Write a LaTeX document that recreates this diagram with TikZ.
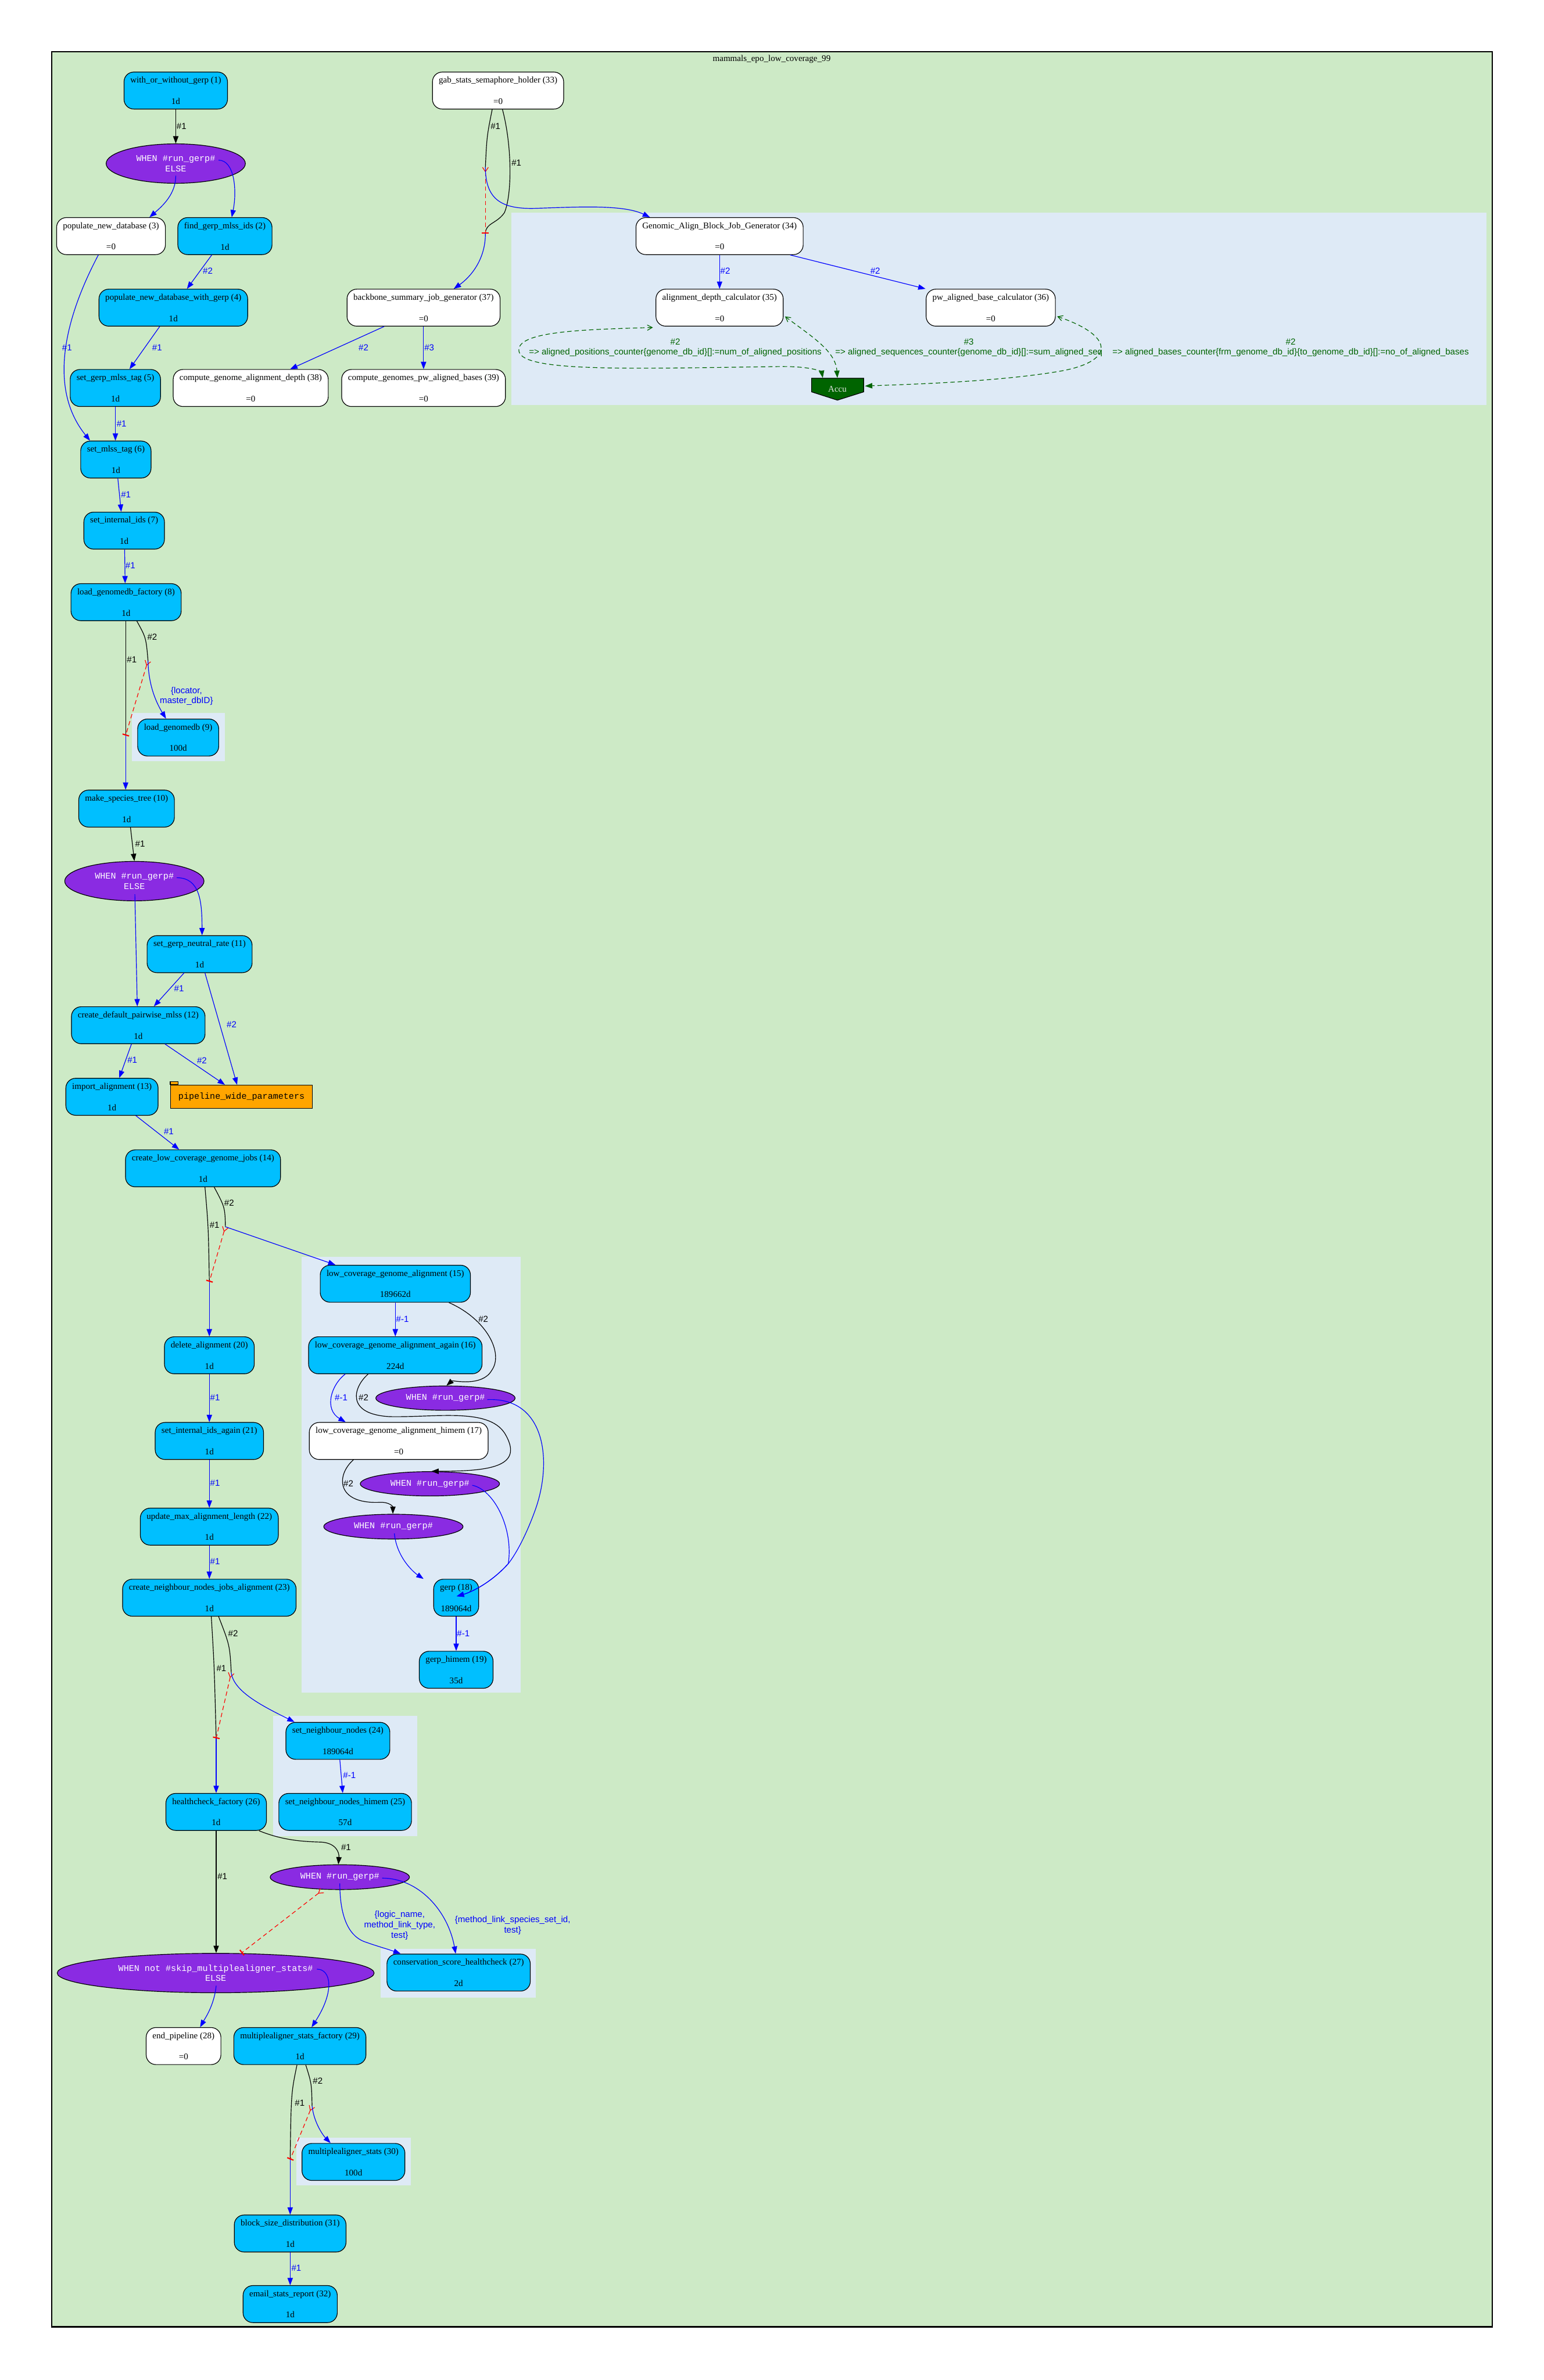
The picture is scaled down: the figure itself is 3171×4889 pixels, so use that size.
\documentclass[tikz,border=0pt]{standalone}
\usepackage{fontspec}
\setmainfont{Liberation Serif}
\setsansfont{Liberation Sans}
\setmonofont{Liberation Mono}
\usepackage{tikz}
\usetikzlibrary{
  arrows.meta,
  calc,
  shapes.geometric
}
\definecolor{clustergreen}{RGB}{205,234,198}
\definecolor{clusterblue}{RGB}{222,234,246}
\definecolor{jobblue}{RGB}{0,191,255}
\definecolor{condviolet}{RGB}{138,43,226}
\definecolor{pwporange}{RGB}{255,165,0}
\definecolor{accugreen}{RGB}{0,100,0}

\begin{document}
\begin{tikzpicture}[x=1pt,y=-1pt,
  job/.style={draw, rounded corners=20pt, fill=jobblue, line width=1.4pt, align=center,
    minimum height=76pt, inner xsep=13pt, inner ysep=4pt, font=\fontsize{18}{22}\selectfont},
  idle/.style={job, fill=white},
  cond/.style={draw, ellipse, fill=condviolet, text=white, line width=1.4pt, align=center,
    inner sep=0pt, minimum width=286pt, font=\ttfamily\fontsize{18}{21}\selectfont},
  fanin/.style={black, line width=1.4pt},
  ctrl/.style={fanin, -{Triangle[length=15pt,width=11pt]}},
  flow/.style={blue, line width=1.4pt, -{Triangle[length=15pt,width=11pt]}},
  sema/.style={red, line width=1.4pt, dash pattern=on 9pt off 6pt,
    {Straight Barb[reversed,length=9pt,width=12pt]}-{Bar[width=14pt,line width=2.5pt]}},
  accuedge/.style={accugreen, line width=1.4pt, dash pattern=on 9pt off 6pt,
    {Straight Barb[length=10pt,width=11pt]}-{Triangle[length=15pt,width=11pt]}},
  lbl/.style={font=\sffamily\fontsize{18}{21}\selectfont, inner sep=0pt, anchor=west, align=center},
  blbl/.style={lbl, text=blue},
  glbl/.style={lbl, text=accugreen}]
  \useasboundingbox (0,0) rectangle (3171,4889);
  % outer cluster
  \draw[line width=3pt, fill=clustergreen] (106,106) rectangle (3065,4780);
  \node[font=\fontsize{18}{22}\selectfont] (title) at (1585,122) {mammals\_epo\_low\_coverage\_99};
  % inner clusters
  \foreach \xa/\ya/\xb/\yb in {1050/437/3053/832, 271/1465/462/1564, 620/2582/1070/3477,
    561/3525/857/3772, 782/4003/1100/4103, 609/4391/844/4489}{
    \fill[clusterblue] (\xa,\ya) rectangle (\xb,\yb);
  }
  % jobs
  \foreach \nm/\px/\py/\lab/\stat in {
    n1/361/186/with\_or\_without\_gerp (1)/1d,
    n2/462/485/find\_gerp\_mlss\_ids (2)/1d,
    n4/356/632/populate\_new\_database\_with\_gerp (4)/1d,
    n5/237/797/set\_gerp\_mlss\_tag (5)/1d,
    n6/238/944/set\_mlss\_tag (6)/1d,
    n7/255/1090/set\_internal\_ids (7)/1d,
    n8/259/1237/load\_genomedb\_factory (8)/1d,
    n9/366/1515/load\_genomedb (9)/100d,
    n10/260/1661/make\_species\_tree (10)/1d,
    n11/410/1960/set\_gerp\_neutral\_rate (11)/1d,
    n12/284/2106/create\_default\_pairwise\_mlss (12)/1d,
    n13/230/2253/import\_alignment (13)/1d,
    n14/417/2400/create\_low\_coverage\_genome\_jobs (14)/1d,
    n15/812/2637/low\_coverage\_genome\_alignment (15)/189662d,
    n16/812/2784/low\_coverage\_genome\_alignment\_again (16)/224d,
    n18/937/3282/gerp (18)/189064d,
    n19/937/3430/gerp\_himem (19)/35d,
    n20/430/2784/delete\_alignment (20)/1d,
    n21/430/2960/set\_internal\_ids\_again (21)/1d,
    n22/430/3136/update\_max\_alignment\_length (22)/1d,
    n23/430/3282/create\_neighbour\_nodes\_jobs\_alignment (23)/1d,
    n24/694/3576/set\_neighbour\_nodes (24)/189064d,
    n25/709/3722/set\_neighbour\_nodes\_himem (25)/57d,
    n26/444/3722/healthcheck\_factory (26)/1d,
    n27/942/4052/conservation\_score\_healthcheck (27)/2d,
    n29/616/4203/multiplealigner\_stats\_factory (29)/1d,
    n30/726/4441/multiplealigner\_stats (30)/100d,
    n31/596/4588/block\_size\_distribution (31)/1d,
    n32/596/4733/email\_stats\_report (32)/1d}{
    \node[job] (\nm) at (\px,\py) {\lab\\[22pt]\stat};
  }
  \foreach \nm/\px/\py/\lab in {
    n3/228/485/populate\_new\_database (3),
    n17/819/2960/low\_coverage\_genome\_alignment\_himem (17),
    n28/377/4203/end\_pipeline (28),
    n33/1023/186/gab\_stats\_semaphore\_holder (33),
    n34/1478/485/Genomic\_Align\_Block\_Job\_Generator (34),
    n35/1478/632/alignment\_depth\_calculator (35),
    n36/2035/632/pw\_aligned\_base\_calculator (36),
    n37/870/632/backbone\_summary\_job\_generator (37),
    n38/515/797/compute\_genome\_alignment\_depth (38),
    n39/870/797/compute\_genomes\_pw\_aligned\_bases (39)}{
    \node[idle] (\nm) at (\px,\py) {\lab\\[22pt]=0};
  }
  % conditions
  \node[cond, minimum height=81pt] (c1) at (361,336) {WHEN \#run\_gerp\#\\ELSE};
  \node[cond, minimum height=81pt] (c2) at (276,1810) {WHEN \#run\_gerp\#\\ELSE};
  \node[cond, minimum height=50pt] (ca) at (915,2872) {WHEN \#run\_gerp\#};
  \node[cond, minimum height=50pt] (cb) at (883,3048) {WHEN \#run\_gerp\#};
  \node[cond, minimum height=51pt] (cc) at (808,3136) {WHEN \#run\_gerp\#};
  \node[cond, minimum height=51pt] (cd) at (698,3856) {WHEN \#run\_gerp\#};
  \node[cond, minimum width=651pt, minimum height=81pt] (ce) at (443,4053)
    {WHEN not \#skip\_multiplealigner\_stats\#\\ELSE};
  % parameters table
  \node[draw, fill=pwporange, line width=1.4pt, minimum width=291pt, minimum height=48pt,
    font=\ttfamily\fontsize{18}{21}\selectfont] (pwp) at (496,2253) {pipeline\_wide\_parameters};
  \draw[fill=pwporange, line width=1.4pt] (pwp.north west) rectangle ++(16,-6);
  % accumulator
  \filldraw[fill=accugreen, draw=black, line width=1.4pt]
    (1667,777) -- (1774,777) -- (1774,805) -- (1720,822) -- (1667,805) -- cycle;
  \node[font=\fontsize{18}{22}\selectfont, text=white!90!black, minimum width=107pt,
    minimum height=45pt, inner sep=0pt] (accu) at (1720,799) {Accu};

  % first condition
  \draw[ctrl] (n1.south) -- (c1.north) node[lbl] at (362,259) {\#1};
  \draw[flow] ($(c1)+(0,25)$) .. controls (361,398) and (335,422) .. ($(n3.north)+(79,0)$);
  \draw[flow] ($(c1)+(88,-7)$) .. controls (482,329) and (487,392) .. ($(n2.north)+(14,0)$);
  \draw[flow] ($(n2.south)+(-27,0)$) -- ($(n4.north)+(28,0)$) node[blbl] at (416,557) {\#2};
  \draw[flow] ($(n4.south)+(-28,0)$) -- ($(n5.north)+(29,0)$) node[blbl] at (312,714) {\#1};
  \draw[flow] ($(n3.south)+(-26,0)$) .. controls (130,660) and (100,800) .. ($(n6.north)+(-53,0)$)
    node[blbl] at (127,714) {\#1};
  \draw[flow] (n5.south) -- (n5.south |- n6.north) node[blbl] at (239,870) {\#1};
  \draw[flow] ($(n6.south)+(4,0)$) -- ($(n7.north)+(-6,0)$) node[blbl] at (248,1016) {\#1};
  \draw[flow] ($(n7.south)+(1,0)$) -- ($(n8.north)+(-2,0)$) node[blbl] at (257,1162) {\#1};

  % semaphore holder
  \coordinate (f33) at (997,343);
  \coordinate (t33) at (997,480);
  \draw[fanin] ($(n33.south)+(-12,0)$) .. controls (1000,280) .. (f33) node[lbl] at (1007,259) {\#1};
  \draw[fanin] ($(n33.south)+(9,0)$) .. controls (1052,300) and (1052,400) .. (1036,437)
    .. controls (1020,460) and (997,458) .. (t33) node[lbl] at (1050,335) {\#1};
  \draw[sema] (f33) -- (t33);
  \draw[flow] (f33) .. controls (997,410) and (1030,430) .. (1100,428)
    .. controls (1190,425) and (1280,420) .. ($(n34.north)+(-143,0)$);
  \draw[flow] (t33) .. controls (997,535) and (965,570) .. ($(n37.north)+(62,0)$);
  \draw[flow] ($(n37.south)+(-81,0)$) -- ($(n38.north)+(81,0)$) node[blbl] at (736,714) {\#2};
  \draw[flow] (n37.south) -- (n39.north) node[blbl] at (871,714) {\#3};
  \draw[flow] (n34.south) -- (n35.north) node[blbl] at (1479,557) {\#2};
  \draw[flow] ($(n34.south)+(145,0)$) -- ($(n36.north)+(-134,0)$) node[blbl] at (1787,557) {\#2};
  % accumulator edges
  \draw[accuedge] ($(n35.south)+(-137,2)$) .. controls (1200,677) and (1058,680) .. (1066,722)
    .. controls (1075,765) and (1300,757) .. (1600,753)
    .. controls (1672,752) and (1688,765) .. ($(accu.north)+(-30,0)$)
    node[glbl, anchor=center] at (1387,714)
    {\#2\\=> aligned\_positions\_counter\{genome\_db\_id\}[]:=num\_of\_aligned\_positions};
  \draw[accuedge] ($(n35.east)+(3,18)$) .. controls (1665,690) and (1716,720) .. (accu.north)
    node[glbl, anchor=center] at (1990,714)
    {\#3\\=> aligned\_sequences\_counter\{genome\_db\_id\}[]:=sum\_aligned\_seq};
  \draw[accuedge] ($(n36.east)+(3,18)$) .. controls (2290,690) and (2290,742) .. (2180,762)
    .. controls (2050,785) and (1850,790) .. ($(accu.east)+(3,-6)$)
    node[glbl, anchor=center] at (2651,714)
    {\#2\\=> aligned\_bases\_counter\{frm\_genome\_db\_id\}\{to\_genome\_db\_id\}[]:=no\_of\_aligned\_bases};

  % semaphore at load_genomedb_factory
  \coordinate (f8) at (304,1357);
  \coordinate (t8) at (258,1511);
  \draw[fanin] ($(n8.south)+(-1,0)$) -- (t8) node[lbl] at (260,1355) {\#1};
  \draw[fanin] ($(n8.south)+(22,0)$) .. controls (300,1310) .. (f8) node[lbl] at (302,1309) {\#2};
  \draw[sema] (f8) -- (t8);
  \draw[flow] (f8) .. controls (305,1410) and (322,1445) .. ($(n9.north)+(-25,0)$)
    node[blbl, anchor=center] at (383,1430) {\{locator,\\master\_dbID\}};
  \draw[flow] (t8) -- (t8 |- n10.north);

  % second condition
  \draw[ctrl] ($(n10.south)+(8,0)$) -- (c2.north) node[lbl] at (277,1734) {\#1};
  \draw[flow] ($(c2)+(1,27)$) -- ($(n12.north)+(-2,0)$);
  \draw[flow] ($(c2)+(87,-7)$) .. controls (410,1803) and (415,1850) .. ($(n11.north)+(5,0)$);
  \draw[flow] ($(n11.south)+(-32,0)$) -- ($(n12.north)+(32,0)$) node[blbl] at (357,2031) {\#1};
  \draw[flow] ($(n11.south)+(11,0)$) -- ($(pwp.north)+(-9,0)$) node[blbl] at (465,2105) {\#2};
  \draw[flow] ($(n12.south)+(55,0)$) -- ($(pwp.north)+(-34,0)$) node[blbl] at (404,2178) {\#2};
  \draw[flow] ($(n12.south)+(-14,0)$) -- ($(n13.north)+(15,0)$) node[blbl] at (261,2178) {\#1};
  \draw[flow] ($(n13.south)+(49,0)$) -- ($(n14.north)+(-49,0)$) node[blbl] at (336,2324) {\#1};

  % semaphore at create_low_coverage_genome_jobs
  \coordinate (f14) at (463,2520);
  \coordinate (t14) at (430,2633);
  \draw[fanin] ($(n14.south)+(4,0)$) .. controls (428,2520) .. (t14) node[lbl] at (430,2517) {\#1};
  \draw[fanin] ($(n14.south)+(23,0)$) .. controls (462,2480) .. (f14) node[lbl] at (460,2471) {\#2};
  \draw[sema] (f14) -- (t14);
  \draw[flow] (f14) -- ($(n15.north)+(-123,0)$);
  \draw[flow] (t14) -- (n20.north);
  % low coverage cluster
  \draw[flow] (n15.south) -- (n16.north) node[blbl] at (813,2710) {\#-1};
  \draw[ctrl] ($(n15.south)+(110,0)$) .. controls (1000,2710) and (1035,2780) .. (1010,2815)
    .. controls (990,2850) and (930,2835) .. ($(ca.north)+(2,0)$) node[lbl] at (982,2710) {\#2};
  \draw[flow] ($(n16.south)+(-103,0)$) .. controls (680,2845) and (665,2895) .. ($(n17.north)+(-109,0)$)
    node[blbl] at (687,2871) {\#-1};
  \draw[ctrl] ($(n16.south)+(-56,0)$) .. controls (725,2850) and (710,2905) .. (800,2910)
    .. controls (900,2912) and (1010,2890) .. (1040,2950)
    .. controls (1075,3015) and (1000,3022) .. ($(cb.north)+(3,0)$) node[lbl] at (736,2871) {\#2};
  \draw[ctrl] ($(n17.south)+(-93,0)$) .. controls (690,3030) and (690,3090) .. (780,3086)
    .. controls (800,3085) and (807,3095) .. ($(cc.north)+(-1,0)$) node[lbl] at (705,3047) {\#2};
  \draw[flow] ($(cc)+(2,14)$) .. controls (815,3200) and (850,3230) .. ($(n18.north)+(-67,0)$);
  \draw[flow] ($(ca)+(86,3)$) .. controls (1120,2870) and (1135,3000) .. (1100,3100)
    .. controls (1075,3170) and (1050,3205) .. (1044,3212)
    .. controls (1010,3250) and (970,3270) .. ($(n18)+(1,-3)$);
  \draw[flow] ($(cb)+(87,3)$) .. controls (1015,3060) and (1055,3140) .. (1044,3212)
    .. controls (1010,3250) and (970,3270) .. ($(n18)+(1,-3)$);
  \draw[flow] (n18.south) -- (n19.north) node[blbl] at (938,3355) {\#-1};
  % alignment chain
  \foreach \a/\b/\y in {n20/n21/2871, n21/n22/3047, n22/n23/3207}{
    \draw[flow] (\a.south) -- (\b.north) node[blbl] at (431,\y) {\#1};
  }

  % semaphore at create_neighbour_nodes_jobs_alignment
  \coordinate (f23) at (475,3436);
  \coordinate (t23) at (444,3571);
  \draw[fanin] ($(n23.south)+(4,0)$) .. controls (440,3420) .. (t23) node[lbl] at (444,3427) {\#1};
  \draw[fanin] ($(n23.south)+(19,0)$) .. controls (472,3380) .. (f23) node[lbl] at (468,3355) {\#2};
  \draw[sema] (f23) -- (t23);
  \draw[flow] (f23) .. controls (480,3475) and (540,3505) .. ($(n24.north)+(-89,0)$);
  \draw[flow] (t23) -- (n26.north);
  \draw[flow] ($(n24.south)+(4,0)$) -- ($(n25.north)+(-5,0)$) node[blbl] at (704,3647) {\#-1};

  % healthchecks
  \draw[ctrl] ($(n26.south)+(88,0)$) .. controls (580,3780) and (620,3783) .. (660,3784)
    .. controls (690,3786) and (697,3805) .. ($(cd.north)+(-3,0)$) node[lbl] at (700,3795) {\#1};
  \draw[ctrl] (n26.south) -- (n26.south |- ce.north) node[lbl] at (446,3855) {\#1};
  \draw[flow] ($(cd)+(0,13)$) .. controls (698,3935) and (715,3975) .. (747,3988)
    .. controls (775,3998) and (800,4005) .. ($(n27.north)+(-119,0)$)
    node[blbl, anchor=center] at (821,3955) {\{logic\_name,\\method\_link\_type,\\test\}};
  \draw[flow] ($(cd)+(87,2)$) .. controls (860,3858) and (920,3925) .. ($(n27.north)+(-6,0)$)
    node[blbl, anchor=center] at (1053,3955) {\{method\_link\_species\_set\_id,\\test\}};
  \draw[sema] ($(cd)+(-36,27)$) -- ($(ce.north)+(53,0)$);
  \draw[flow] ($(ce)+(1,26)$) .. controls (440,4120) and (420,4148) .. ($(n28.north)+(34,0)$);
  \draw[flow] ($(ce)+(208,-8)$) .. controls (680,4045) and (688,4090) .. ($(n29.north)+(24,0)$);

  % semaphore at multiplealigner_stats_factory
  \coordinate (f29) at (641,4326);
  \coordinate (t29) at (596,4436);
  \draw[fanin] ($(n29.south)+(-6,0)$) .. controls (598,4300) .. (t29) node[lbl] at (605,4320) {\#1};
  \draw[fanin] ($(n29.south)+(12,0)$) .. controls (640,4280) .. (f29) node[lbl] at (642,4275) {\#2};
  \draw[sema] (f29) -- (t29);
  \draw[flow] (f29) .. controls (645,4362) and (665,4388) .. ($(n30.north)+(-47,0)$);
  \draw[flow] (t29) -- (n31.north);
  \draw[flow] (n31.south) -- (n32.north) node[blbl] at (598,4659) {\#1};
\end{tikzpicture}
\end{document}
